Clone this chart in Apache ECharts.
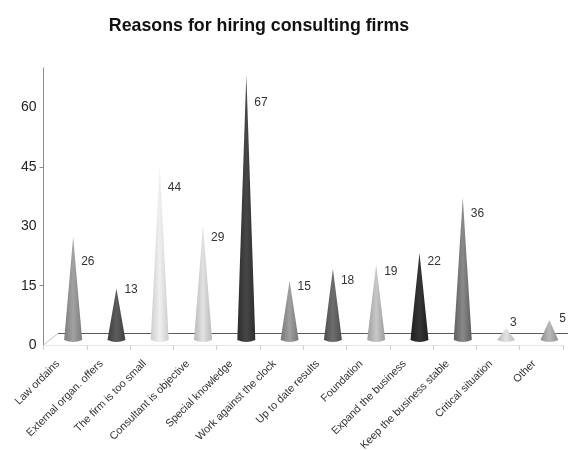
<!DOCTYPE html>
<html><head><meta charset="utf-8">
<style>html,body{margin:0;padding:0;background:#fff}#c{width:568px;height:450px}</style>
<script src="https://cdn.jsdelivr.net/npm/echarts@6/dist/echarts.min.js"></script>
</head><body><div id="c"></div>
<script>
const chartTitle = 'Reasons for hiring consulting firms';
const categories = ['Law ordains','External organ. offers','The firm is too small','Consultant is objective','Special knowledge','Work against the clock','Up to date results','Foundation','Expand the business','Keep the business stable','Critical situation','Other'];
const values = [26,13,44,29,67,15,18,19,22,36,3,5];
const labelLevels = [19.8,12.7,38.6,25.9,59.9,13.5,15,17.3,19.8,32,4.3,5.3];
const labelGaps = [8,8,8,8,8,8,8,8,8,8,4,10];
const yTicks = [0,15,30,45,60];
const yMarks = [15,45];
const coneEdge = ['#7c7c7c','#3e3e3e','#cccccc','#b8b8b8','#2c2c2c','#777777','#4c4c4c','#9c9c9c','#1e1e1e','#5e5e5e','#b8b8b8','#909090'];
const coneMid  = ['#a2a2a2','#5c5c5c','#f0f0f0','#e2e2e2','#474747','#a0a0a0','#6e6e6e','#c8c8c8','#363636','#8a8a8a','#e2e2e2','#b8b8b8'];

const DX = 8, DY = -5, HALF = 9, RY = 2;
const font = '"Liberation Sans", Arial, sans-serif';
const chart = echarts.init(document.getElementById('c'), null, {renderer:'canvas'});
chart.setOption({
  animation:false,
  backgroundColor:'#fff',
  title:{text:chartTitle,left:254,top:12,textAlign:'center',textStyle:{fontFamily:font,fontSize:17.8,fontWeight:'bold',color:'#111'}},
  grid:{left:43.5,right:5,top:68,bottom:105,outerBoundsMode:'none'},
  xAxis:{type:'category',data:categories,boundaryGap:true,
    axisLine:{show:true,lineStyle:{color:'#e6e6e6'}},
    axisTick:{show:true,length:5,lineStyle:{color:'#cfcfcf'}},
    axisLabel:{interval:0,rotate:45,fontFamily:font,fontSize:10.8,color:'#333',margin:10,padding:[0,10,0,0]}},
  yAxis:{type:'value',min:0,max:70,interval:15,splitLine:{show:false},
    axisLine:{show:true,lineStyle:{color:'#8a8a8a'}},
    axisTick:{show:true,length:4,customValues:yMarks,lineStyle:{color:'#8a8a8a'}},
    axisLabel:{fontFamily:font,fontSize:14,color:'#222',margin:7,customValues:yTicks}},
  series:[
   {type:'custom',z:1,silent:true,coordinateSystem:'cartesian2d',data:[[0,0]],clip:false,
    renderItem(p,api){
      const o=api.coord([0,0]); const left=o[0]-api.size([1,0])[0]/2;
      const y=o[1], backY=Math.floor(y-12)+0.5, backX=left+14.5;
      return {type:'group',children:[
        {type:'line',shape:{x1:left,y1:y,x2:backX,y2:backY},style:{stroke:'#c4c4c4',lineWidth:1}},
        {type:'line',shape:{x1:backX,y1:backY,x2:568,y2:backY},style:{stroke:'#5a5a5a',lineWidth:1}}
      ]};
    }},
   {type:'custom',z:2,silent:true,coordinateSystem:'cartesian2d',clip:false,
    data:values.map((v,i)=>[i,v,labelLevels[i]]),
    encode:{x:0,y:1},
    renderItem(p,api){
      const i=api.value(0), v=api.value(1);
      const base=api.coord([i,0]), tip=api.coord([i,v]), lab=api.coord([i,api.value(2)]);
      const cx=base[0]+DX, by=base[1]+DY, ty=tip[1]+DY;
      const fill=new echarts.graphic.LinearGradient(0,0,1,0,[
        {offset:0,color:coneEdge[i]},{offset:.5,color:coneMid[i]},{offset:1,color:coneEdge[i]}]);
      return {type:'group',children:[
        {type:'path',shape:{pathData:`M${cx} ${ty}L${cx+HALF} ${by}Q${cx} ${by+2*RY} ${cx-HALF} ${by}Z`,layout:'none'},
         style:{fill}},
        {type:'text',style:{text:String(v),x:cx+labelGaps[i],y:lab[1]+DY,verticalAlign:'middle',align:'left',font:'12px '+font,fill:'#333'}}
      ]};
    }}
  ]
});
</script></body></html>
